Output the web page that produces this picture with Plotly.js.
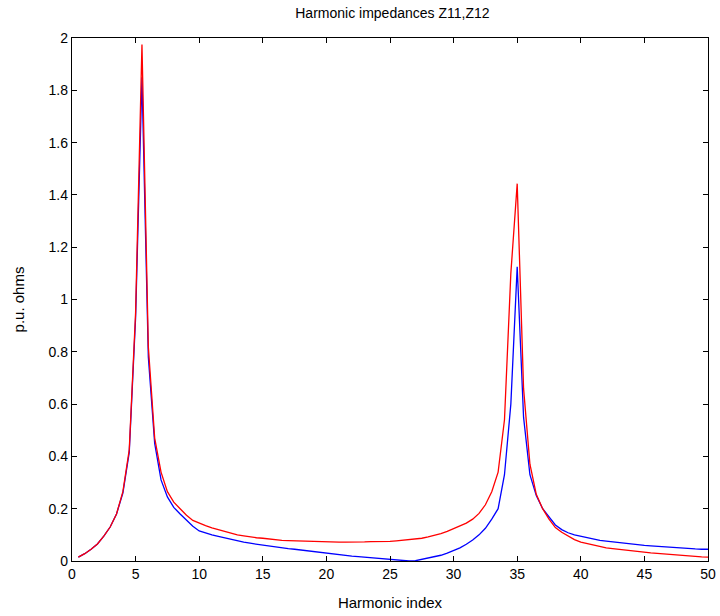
<!DOCTYPE html>
<html>
<head>
<meta charset="utf-8">
<script src="https://cdn.plot.ly/plotly-3.0.1.min.js"></script>
<style>html,body{margin:0;padding:0;background:#fff;}#chart{width:720px;height:616px;}</style>
</head>
<body>
<div id="chart"></div>
<script>
const harmonicIndex = [];
for (let i = 1; i <= 100; i++) harmonicIndex.push(i * 0.5);

const z12Blue = [
  0.015, 0.028, 0.045, 0.065, 0.095, 0.13, 0.18, 0.26, 0.415, 0.93,
  1.85, 0.78, 0.45, 0.31, 0.245, 0.205, 0.18, 0.155, 0.133, 0.115,
  0.106, 0.1, 0.094, 0.088, 0.083, 0.077, 0.072, 0.068, 0.064, 0.061,
  0.057, 0.054, 0.05, 0.047, 0.045, 0.042, 0.038, 0.035, 0.032, 0.029,
  0.027, 0.024, 0.021, 0.019, 0.017, 0.015, 0.013, 0.011, 0.009, 0.007,
  0.004, 0.001, 0.0, 0.001, 0.006, 0.01, 0.015, 0.022, 0.03, 0.04,
  0.05, 0.064, 0.08, 0.1, 0.125, 0.16, 0.2, 0.33, 0.6, 1.125,
  0.55, 0.33, 0.25, 0.2, 0.17, 0.138, 0.12, 0.108, 0.1, 0.095,
  0.088, 0.083, 0.079, 0.076, 0.073, 0.07, 0.067, 0.064, 0.062, 0.06,
  0.058, 0.056, 0.054, 0.052, 0.05, 0.048, 0.047, 0.046, 0.045, 0.045
];

const z11Red = [
  0.015, 0.028, 0.045, 0.065, 0.095, 0.13, 0.18, 0.265, 0.425, 0.95,
  1.975, 0.82, 0.47, 0.34, 0.265, 0.225, 0.2, 0.175, 0.155, 0.144,
  0.135, 0.127, 0.12, 0.113, 0.106, 0.1, 0.096, 0.092, 0.089, 0.087,
  0.084, 0.081, 0.079, 0.078, 0.077, 0.076, 0.076, 0.075, 0.075, 0.074,
  0.073, 0.072, 0.072, 0.072, 0.071, 0.073, 0.074, 0.074, 0.075, 0.075,
  0.077, 0.079, 0.081, 0.083, 0.087, 0.092, 0.098, 0.105, 0.113, 0.124,
  0.132, 0.145, 0.16, 0.182, 0.215, 0.265, 0.34, 0.54, 1.1, 1.443,
  0.66, 0.37, 0.255, 0.2, 0.16, 0.128, 0.11, 0.095, 0.082, 0.072,
  0.066, 0.06, 0.055, 0.05, 0.047, 0.044, 0.041, 0.039, 0.036, 0.034,
  0.031, 0.029, 0.027, 0.025, 0.023, 0.02, 0.018, 0.017, 0.016, 0.015
];

const xTicks = [0, 5, 10, 15, 20, 25, 30, 35, 40, 45, 50];
const yTicks = [0, 0.2, 0.4, 0.6, 0.8, 1, 1.2, 1.4, 1.6, 1.8, 2];

const traces = [
  {x: harmonicIndex, y: z12Blue, type: 'scatter', mode: 'lines', name: 'Z12',
   line: {color: '#0000ff', width: 1.3}},
  {x: harmonicIndex, y: z11Red, type: 'scatter', mode: 'lines', name: 'Z11',
   line: {color: '#ff0000', width: 1.3}}
];

const axisCommon = {
  showgrid: false, zeroline: false, showline: true, linecolor: '#000', linewidth: 1.2,
  mirror: 'ticks', ticks: 'inside', ticklen: 5, tickwidth: 1, tickcolor: '#000',
  tickfont: {family: 'Liberation Sans, Arial, sans-serif', size: 14, color: '#000'}
};

const layout = {
  width: 720, height: 616,
  margin: {l: 72, r: 12, t: 38, b: 55},
  paper_bgcolor: '#fff', plot_bgcolor: '#fff',
  showlegend: false,
  font: {family: 'Liberation Sans, Arial, sans-serif', size: 14, color: '#000'},
  title: {text: 'Harmonic impedances Z11,Z12', x: 0.545, xanchor: 'center', y: 0.978, yanchor: 'middle',
          font: {size: 14, color: '#000'}},
  xaxis: Object.assign({}, axisCommon, {
    range: [0, 50], tickvals: xTicks, ticktext: xTicks.map(String),
    title: {text: 'Harmonic index', standoff: 16, font: {size: 15}}
  }),
  yaxis: Object.assign({}, axisCommon, {
    range: [0, 2], tickvals: yTicks, ticktext: yTicks.map(String),
    title: {text: 'p.u. ohms', standoff: 20, font: {size: 15}}
  })
};

Plotly.newPlot('chart', traces, layout, {displayModeBar: false, staticPlot: true});
</script>
</body>
</html>
